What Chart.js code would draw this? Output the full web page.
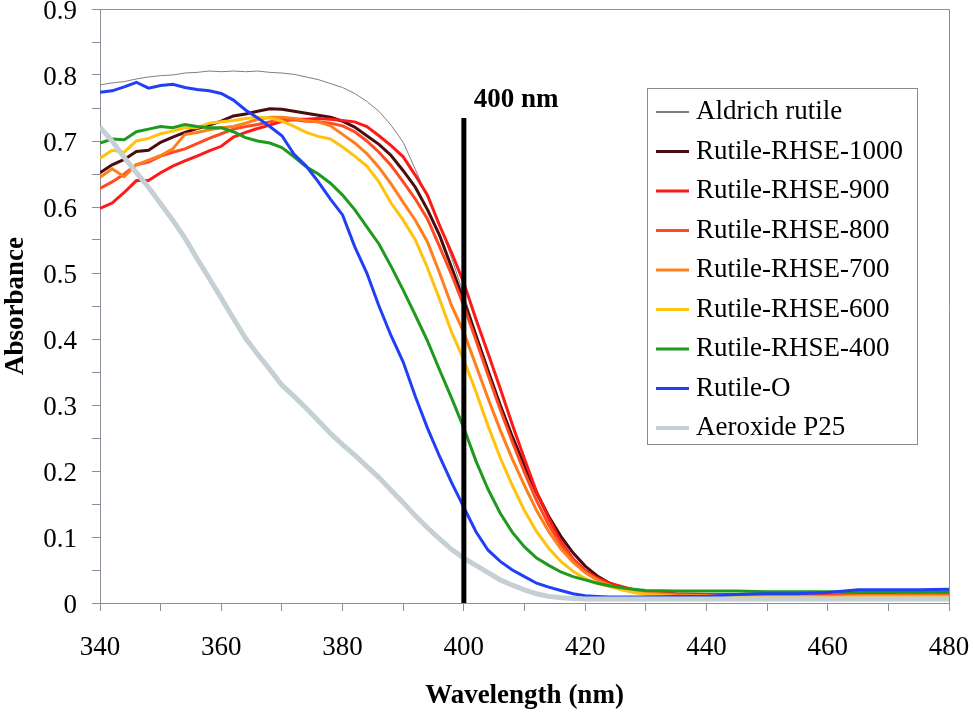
<!DOCTYPE html>
<html>
<head>
<meta charset="utf-8">
<script src="https://cdn.jsdelivr.net/npm/chart.js@4"></script>
<style>
  html, body { margin: 0; padding: 0; background: #fff; }
  #wrap { width: 973px; height: 714px; position: relative; }
</style>
</head>
<body>
<div id="wrap"><canvas id="chart-abs"></canvas></div>
<script>
// wavelength grid (nm)
var wavelengths = [340,342,344,346,348,350,352,354,356,358,360,362,364,366,368,370,372,374,376,378,
  380,382,384,386,388,390,392,394,396,398,400,402,404,406,408,410,412,414,416,418,
  420,422,424,426,428,430,435,440,445,450,455,460,465,470,475,480];

var seriesNames = ["Aldrich rutile", "Rutile-RHSE-1000", "Rutile-RHSE-900", "Rutile-RHSE-800",
  "Rutile-RHSE-700", "Rutile-RHSE-600", "Rutile-RHSE-400", "Rutile-O", "Aeroxide P25"];

var aldrich = [.785,.788,.790,.794,.797,.799,.800,.803,.804,.806,.805,.806,.805,.806,.804,.803,.801,.797,.793,.787,
  .781,.772,.760,.745,.724,.698,.657,.615,.574,.522,.467,.410,.355,.300,.250,.205,.163,.128,.098,.074,
  .056,.042,.032,.025,.020,.017,.014,.013,.013,.012,.012,.012,.012,.012,.012,.013];
var rhse1000 = [.652,.664,.672,.684,.686,.698,.706,.713,.719,.724,.730,.738,.741,.745,.749,.748,.745,.742,.739,.736,
  .730,.721,.708,.695,.678,.655,.630,.596,.557,.508,.458,.405,.352,.300,.252,.208,.167,.131,.101,.076,
  .056,.041,.030,.023,.019,.016,.013,.012,.012,.011,.012,.011,.012,.012,.011,.012];
var rhse900 = [.598,.606,.622,.640,.640,.652,.662,.670,.677,.685,.692,.706,.713,.719,.724,.730,.733,.733,.734,.733,
  .731,.729,.722,.708,.693,.676,.648,.618,.572,.530,.485,.430,.378,.325,.270,.218,.168,.128,.093,.067,
  .049,.038,.030,.025,.020,.017,.014,.013,.013,.012,.012,.012,.013,.013,.012,.013];
var rhse800 = [.628,.638,.650,.664,.668,.677,.683,.688,.696,.704,.711,.718,.722,.725,.729,.733,.732,.730,.729,.727,
  .723,.714,.700,.683,.663,.638,.612,.582,.540,.497,.450,.398,.345,.293,.244,.198,.155,.118,.088,.065,
  .047,.035,.027,.021,.017,.015,.012,.011,.011,.011,.010,.011,.011,.011,.011,.012];
var rhse700 = [.645,.658,.646,.664,.671,.678,.688,.710,.713,.717,.720,.722,.727,.733,.736,.736,.734,.731,.729,.723,
  .710,.697,.681,.660,.635,.607,.580,.547,.500,.450,.410,.360,.310,.262,.218,.178,.140,.108,.082,.062,
  .046,.035,.027,.021,.017,.015,.012,.011,.011,.011,.011,.010,.011,.011,.011,.011];
var rhse600 = [.674,.686,.683,.700,.704,.711,.715,.720,.720,.727,.729,.731,.734,.736,.735,.730,.722,.713,.707,.703,
  .691,.677,.662,.638,.606,.580,.550,.508,.460,.410,.368,.320,.268,.220,.178,.140,.108,.083,.063,.048,
  .037,.030,.025,.020,.016,.013,.010,.009,.009,.009,.009,.008,.009,.009,.009,.009];
var rhse400 = [.697,.703,.702,.714,.718,.722,.720,.725,.722,.720,.720,.714,.705,.700,.697,.690,.676,.661,.650,.636,
  .618,.596,.570,.544,.510,.474,.436,.397,.353,.310,.265,.215,.172,.136,.107,.085,.068,.057,.047,.040,
  .035,.030,.026,.023,.021,.019,.018,.018,.018,.017,.017,.017,.016,.017,.016,.017];
var rutileO = [.774,.776,.782,.789,.780,.784,.786,.781,.778,.776,.772,.762,.747,.735,.722,.708,.680,.662,.638,.612,
  .588,.540,.500,.450,.405,.365,.313,.265,.222,.182,.145,.108,.080,.063,.050,.040,.030,.024,.019,.014,
  .011,.010,.009,.009,.009,.009,.010,.010,.013,.014,.014,.016,.020,.020,.020,.021];
var p25 = [.721,.700,.675,.652,.630,.605,.580,.553,.522,.492,.462,.431,.401,.377,.354,.330,.313,.295,.276,.257,
  .240,.224,.207,.190,.171,.152,.132,.114,.097,.081,.068,.057,.046,.035,.027,.020,.014,.010,.008,.007,
  .006,.006,.006,.006,.006,.006,.006,.006,.006,.006,.006,.006,.006,.006,.006,.006];

// the 400 nm marker
var markerX = [400, 400];
var markerY = [0, 0.735];

var allValues = [aldrich, rhse1000, rhse900, rhse800, rhse700, rhse600, rhse400, rutileO, p25];
var colors = ["#7f7f7f", "#4a0d0d", "#ff1a1a", "#ff4a22", "#ff7f1e", "#ffc20e", "#1f9a1f", "#2140f5", "#c4d0d4"];
var widths = [1, 3, 3, 3, 3, 3, 3, 3, 5];

var serif = "'Liberation Serif', 'Times New Roman', serif";
var axisGray = "#8a8f99";

var datasets = [];
for (let i = 0; i < seriesNames.length; i++) {
  datasets.push({
    label: seriesNames[i],
    data: wavelengths.map(function (w, k) { return { x: w, y: allValues[i][k] }; }),
    borderColor: colors[i],
    backgroundColor: colors[i],
    borderWidth: widths[i],
    pointRadius: 0,
    tension: 0,
    fill: false,
    order: seriesNames.length - i,
  });
}
datasets.push({
  label: "marker",
  data: markerX.map(function (x, k) { return { x: x, y: markerY[k] }; }),
  borderColor: "#000",
  borderWidth: 5,
  pointRadius: 0,
  fill: false,
  order: 0,
  isMarker: true,
});

var extras = {
  id: "extras",
  afterDraw: function (chart) {
    var ctx = chart.ctx;
    var a = chart.chartArea;
    var xs = chart.scales.x, ys = chart.scales.y;
    ctx.save();
    // frame top + right
    ctx.strokeStyle = axisGray;
    ctx.lineWidth = 1;
    ctx.beginPath();
    ctx.moveTo(a.left, a.top + 0.5);
    ctx.lineTo(a.right + 0.5, a.top + 0.5);
    ctx.lineTo(a.right + 0.5, a.bottom);
    ctx.stroke();

    // 400 nm label
    ctx.fillStyle = "#000";
    ctx.font = "bold 27px " + serif;
    ctx.textBaseline = "middle";
    ctx.textAlign = "left";
    ctx.fillText("400 nm", xs.getPixelForValue(400) + 10, ys.getPixelForValue(0.762));

    // legend box
    var bx = 647, by = 88, bw = 270, bh = 356;
    ctx.fillStyle = "#fff";
    ctx.fillRect(bx, by, bw, bh);
    ctx.strokeStyle = "#8c8c8c";
    ctx.strokeRect(bx + 0.5, by + 0.5, bw, bh);
    ctx.font = "27px " + serif;
    var items = chart.data.datasets.filter(function (d) { return !d.isMarker; });
    items.forEach(function (d, i) {
      var cy = 112 + i * 39.5;
      ctx.strokeStyle = d.borderColor;
      ctx.lineWidth = d.borderWidth === 1 ? 2 : (d.borderWidth > 3 ? 4 : 3);
      ctx.beginPath();
      ctx.moveTo(656, cy);
      ctx.lineTo(689, cy);
      ctx.stroke();
      ctx.fillStyle = "#000";
      ctx.fillText(d.label, 696, cy);
    });
    ctx.restore();
  },
};

var ctx1 = document.getElementById("chart-abs").getContext("2d");
var chart1 = new Chart(ctx1, {
  type: "line",
  data: { datasets: datasets },
  options: {
    responsive: true,
    maintainAspectRatio: false,
    animation: false,
    layout: { padding: { top: 9, right: 24, left: 0, bottom: 0 } },
    plugins: {
      legend: { display: false },
      tooltip: { enabled: false },
    },
    scales: {
      x: {
        type: "linear",
        min: 340,
        max: 480,
        afterFit: function (scale) {
          scale.height = 111;
          scale.paddingLeft = 0;
          scale.paddingRight = 0;
        },
        grid: {
          display: true,
          drawOnChartArea: false,
          drawTicks: true,
          tickLength: 8,
          color: axisGray,
        },
        border: { display: true, color: axisGray },
        ticks: {
          stepSize: 10,
          autoSkip: false,
          maxRotation: 0,
          padding: 21,
          color: "#000",
          font: { size: 27, family: serif },
          callback: function (v) { return v % 20 === 0 ? String(v) : ""; },
        },
        title: {
          display: true,
          text: "Wavelength (nm)",
          color: "#000",
          padding: { top: 0, bottom: 2 },
          font: { size: 27, weight: "bold", family: serif },
        },
      },
      y: {
        min: 0,
        max: 0.9,
        afterFit: function (scale) {
          scale.width = 100;
          scale.paddingTop = 0;
          scale.paddingBottom = 0;
        },
        grid: {
          display: true,
          drawOnChartArea: false,
          drawTicks: true,
          tickLength: 8,
          color: axisGray,
        },
        border: { display: true, color: axisGray },
        ticks: {
          stepSize: 0.05,
          autoSkip: false,
          padding: 15,
          labelOffset: 3,
          color: "#000",
          font: { size: 27, family: serif },
          callback: function (v) {
            var r = Math.round(v * 100);
            if (r % 10 !== 0) return "";
            return r === 0 ? "0" : (r / 100).toFixed(1);
          },
        },
        title: {
          display: true,
          text: "Absorbance",
          color: "#000",
          padding: { top: 0, bottom: 0 },
          font: { size: 27, weight: "bold", family: serif },
        },
      },
    },
  },
  plugins: [extras],
});
</script>
</body>
</html>
